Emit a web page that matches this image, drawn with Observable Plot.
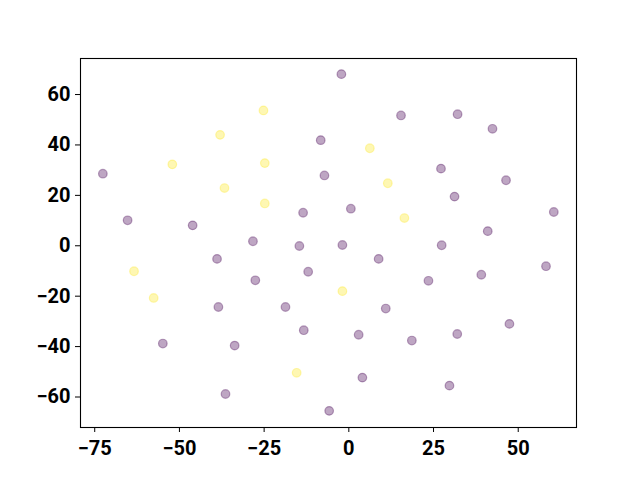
<!DOCTYPE html>
<html>
<head>
<meta charset="utf-8">
<script src="https://cdn.jsdelivr.net/npm/d3@7"></script>
<script src="https://cdn.jsdelivr.net/npm/@observablehq/plot@0.6"></script>
<style>
  html, body { margin: 0; padding: 0; background: #fff; }
  #chart svg { display: block; }
  #chart svg text { font-family: Roboto, sans-serif; font-weight: 700; }
</style>
</head>
<body>
<div id="chart"></div>
<script>
const purpleX = [-72.6,-65.3,-46.1,-8.3,-7.2,-13.5,-28.3,-14.6,-2.2,15.4,32.1,42.4,27.2,46.4,31.2,0.6,60.5,41.0,-1.9,27.4,-38.9,-12.0,-27.6,-38.5,-18.7,-13.3,-54.9,-33.7,-36.4,-5.8,8.8,39.1,58.2,23.5,10.9,2.9,18.6,32.0,47.4,4.0,29.7];
const purpleY = [28.6,10.1,8.1,41.9,27.9,13.1,1.8,-0.1,68.1,51.7,52.2,46.4,30.6,26.0,19.5,14.7,13.4,5.8,0.3,0.2,-5.2,-10.3,-13.7,-24.3,-24.3,-33.5,-38.8,-39.6,-58.8,-65.5,-5.2,-11.5,-8.1,-13.9,-24.9,-35.3,-37.6,-35.0,-31.0,-52.3,-55.5];
const yellowX = [-25.2,-38.0,-52.1,-24.8,-36.7,-24.8,6.2,11.5,16.4,-63.4,-57.6,-15.4,-1.9];
const yellowY = [53.7,44.0,32.3,32.8,22.9,16.8,38.7,24.8,11.0,-10.1,-20.7,-50.4,-18.0];
const xTicks = [-75,-50,-25,0,25,50];
const yTicks = [-60,-40,-20,0,20,40,60];

const data = [
  ...purpleX.map((x, i) => ({x, y: purpleY[i], c: 0})),
  ...yellowX.map((x, i) => ({x, y: yellowY[i], c: 1}))
];
const fmt = d => d < 0 ? "\u2212" + Math.abs(d) : String(d);

const chart = Plot.plot({
  width: 640,
  height: 480,
  marginLeft: 80,
  marginRight: 64,
  marginTop: 58,
  marginBottom: 53,
  style: {fontFamily: "Roboto", fontSize: "20px", fontWeight: "bold", color: "#000", background: "#fff"},
  x: {domain: [-79.2, 67.2]},
  y: {domain: [-72.1, 74.3]},
  color: {type: "linear", domain: [0, 1], scheme: "viridis"},
  marks: [
    Plot.dot(data, {x: "x", y: "y", r: 4.3, fill: "c", stroke: "c", fillOpacity: 0.35, strokeOpacity: 0.35, strokeWidth: 1.2}),
    Plot.frame({stroke: "#000", strokeWidth: 1.1}),
    Plot.axisX({ticks: xTicks, tickFormat: fmt, tickSize: 5, tickPadding: 8, label: null, fontSize: 20, fontWeight: "bold"}),
    Plot.axisY({ticks: yTicks, tickFormat: fmt, tickSize: 5, tickPadding: 5, label: null, fontSize: 20, fontWeight: "bold"})
  ]
});
document.getElementById("chart").append(chart);
</script>
</body>
</html>
